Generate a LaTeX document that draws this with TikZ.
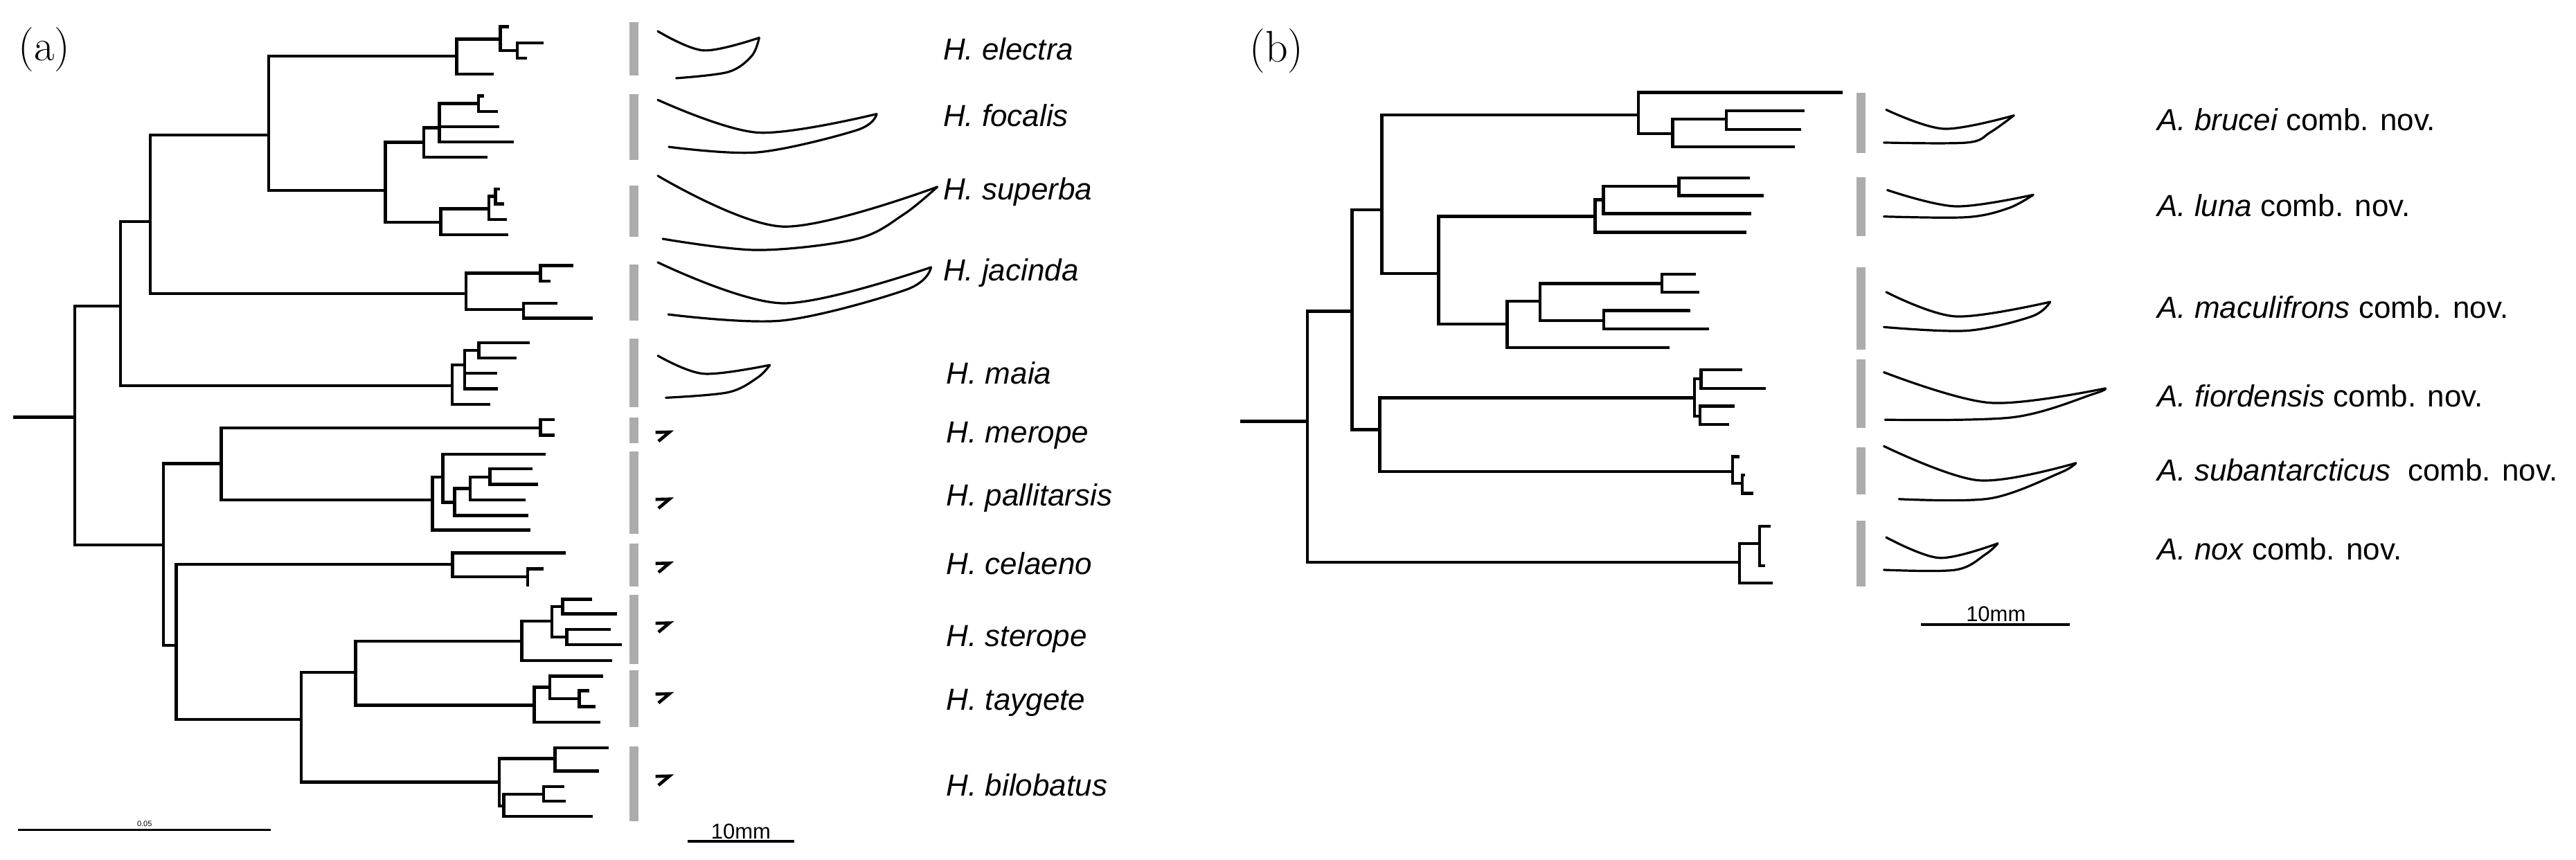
\documentclass[tikz,border=0pt]{standalone}
\usepackage{fontspec}
\setmainfont{Liberation Sans}
\newfontfamily\serifft{Latin Modern Roman}
\begin{document}
\begin{tikzpicture}[x=2.3724pt,y=-2.3724pt,
  tr/.style={line width=4.4pt,line cap=rect},
  claw/.style={line width=3.2pt,line cap=round,line join=round},
  bar/.style={fill=gray!65,draw=none},
  smark/.style={line width=4.6pt,line cap=butt,line join=miter},
  lab/.style={anchor=west,font=\fontsize{44pt}{50pt}\selectfont,inner sep=0pt},
  plab/.style={font=\serifft\fontsize{64pt}{70pt}\selectfont,inner sep=0pt},
  sc/.style={font=\fontsize{31pt}{34pt}\selectfont,inner sep=0pt,anchor=south}]
\useasboundingbox (0,0) rectangle (1568,523.1);
\newcommand\hb[3]{\draw[tr] (#1,#3) -- (#2,#3);}
\newcommand\vb[3]{\draw[tr] (#1,#2) -- (#1,#3);}
\newcommand\gbar[3]{\fill[bar] (#1,#2) rectangle ++(5.5,#3-#2);}
\newcommand\clw[2]{\draw[claw] plot[smooth,tension=0.55] coordinates {#1};\draw[claw] plot[smooth,tension=0.55] coordinates {#2};}
\newcommand\smk[2]{\draw[smark] (#1-1,#2-2.6) -- (#1+7.5,#2-2.8) -- (#1+0.8,#2+2.8);}
% ---------- panel (a) ----------
\node[plab] (pa) at (27,30) {(a)};
\hb{9}{45.5}{254}
\vb{45.5}{186.3}{331.6}
\hb{45.5}{73.3}{186.3}
\vb{73.3}{135}{234.7}
\hb{73.3}{91.5}{135}
\vb{91.5}{82.2}{178.8}
\hb{91.5}{163.5}{82.2}
\vb{163.5}{34.2}{115.8}
\hb{163.5}{278}{34.2}
\vb{278}{23.8}{45}
\hb{278}{304.5}{23.8}
\vb{304.5}{16.2}{30.8}
\hb{304.5}{309}{16.2}
\hb{304.5}{314.8}{30.8}
\vb{314.8}{26.2}{35.3}
\hb{314.8}{330}{26.2}
\hb{314.8}{320}{35.3}
\hb{278}{299.5}{45}
\hb{163.5}{234.5}{115.8}
\vb{234.5}{86.7}{135.3}
\hb{234.5}{258}{86.7}
\vb{258}{77.7}{95.8}
\hb{258}{267.5}{77.7}
\vb{267.5}{63}{86.5}
\hb{267.5}{291.3}{63}
\vb{291.3}{58.3}{67.8}
\hb{291.3}{293.8}{58.3}
\hb{291.3}{302}{67.8}
\hb{267.5}{302.8}{77.2}
\hb{267.5}{312}{86.5}
\hb{258}{295.6}{95.8}
\hb{234.5}{268.3}{135.3}
\vb{268.3}{127}{143}
\hb{268.3}{297.6}{127}
\vb{297.6}{119.5}{133.5}
\hb{297.6}{301.5}{119.5}
\vb{301.5}{115}{124.2}
\hb{301.5}{303.5}{115}
\hb{301.5}{305.8}{124.2}
\hb{297.6}{307.4}{133.5}
\hb{268.3}{308.6}{143}
\hb{91.5}{283.6}{178.8}
\vb{283.6}{166.3}{188.3}
\hb{283.6}{329}{166.3}
\vb{329}{161.7}{171.2}
\hb{329}{348}{161.7}
\hb{329}{334}{171.2}
\hb{283.6}{318.6}{188.3}
\vb{318.6}{184.5}{193.7}
\hb{318.6}{338.5}{184.5}
\hb{318.6}{359.7}{193.7}
\hb{73.3}{275.2}{234.7}
\vb{275.2}{222.2}{246.2}
\hb{275.2}{282.8}{222.2}
\vb{282.8}{213.3}{236.7}
\hb{282.8}{291.5}{213.3}
\vb{291.5}{208.7}{218}
\hb{291.5}{321.4}{208.7}
\hb{291.5}{313.7}{218}
\hb{282.8}{301.5}{227.3}
\hb{282.8}{302}{236.7}
\hb{275.2}{297.6}{246.2}
\hb{45.5}{99.6}{331.6}
\vb{99.6}{282.2}{392.9}
\hb{99.6}{134.6}{282.2}
\vb{134.6}{260.5}{304.4}
\hb{134.6}{329}{260.5}
\vb{329}{255.5}{264.9}
\hb{329}{336.7}{255.5}
\hb{329}{336.7}{264.9}
\hb{134.6}{263.2}{304.4}
\vb{263.2}{290.4}{322.7}
\hb{263.2}{269.5}{290.4}
\vb{269.5}{276.5}{305.8}
\hb{269.5}{331.4}{276.5}
\hb{269.5}{276.7}{305.8}
\vb{276.7}{297.3}{313.8}
\hb{276.7}{286.2}{297.3}
\vb{286.2}{290.4}{304.4}
\hb{286.2}{298.2}{290.4}
\vb{298.2}{285.4}{294.8}
\hb{298.2}{323.2}{285.4}
\hb{298.2}{326.5}{294.8}
\hb{286.2}{318.9}{304.4}
\hb{276.7}{320.6}{313.8}
\hb{263.2}{322}{322.7}
\hb{99.6}{107.3}{392.9}
\vb{107.3}{343.5}{437.9}
\hb{107.3}{275.4}{343.5}
\vb{275.4}{336.6}{351.1}
\hb{275.4}{343.6}{336.6}
\hb{275.4}{321.2}{351.1}
\vb{321.2}{346.2}{356.1}
\hb{321.2}{330}{346.2}
\hb{107.3}{183.4}{437.9}
\vb{183.4}{409.4}{476.1}
\hb{183.4}{216.4}{409.4}
\vb{216.4}{390.2}{429.3}
\hb{216.4}{317.6}{390.2}
\vb{317.6}{378.1}{402.1}
\hb{317.6}{336}{378.1}
\vb{336}{369.3}{387.9}
\hb{336}{342.4}{369.3}
\vb{342.4}{364.8}{373.7}
\hb{342.4}{359.5}{364.8}
\hb{342.4}{374.8}{373.7}
\hb{336}{345}{387.9}
\vb{345}{383.1}{392.5}
\hb{345}{371}{383.1}
\hb{345}{377.6}{392.5}
\hb{317.6}{371.7}{402.1}
\hb{216.4}{325.2}{429.3}
\vb{325.2}{418.3}{439.5}
\hb{325.2}{334.7}{418.3}
\vb{334.7}{411.6}{425.2}
\hb{334.7}{366.1}{411.6}
\hb{334.7}{352.6}{425.2}
\vb{352.6}{420.4}{430.2}
\hb{352.6}{357.7}{420.4}
\hb{352.6}{361.5}{430.2}
\hb{325.2}{364.6}{439.5}
\hb{183.4}{304}{476.1}
\vb{304}{461.7}{490.6}
\hb{304}{337.8}{461.7}
\vb{337.8}{455.1}{469.3}
\hb{337.8}{369.7}{455.1}
\hb{337.8}{363.6}{469.3}
\hb{304}{306.6}{490.6}
\vb{306.6}{483.5}{496.9}
\hb{306.6}{330.9}{483.5}
\vb{330.9}{478.7}{487.6}
\hb{330.9}{342.4}{478.7}
\hb{330.9}{343.6}{487.6}
\hb{306.6}{359.7}{496.9}
% scale bar a
\coordinate (sa1) at (11,505.2); \coordinate (sa2) at (164.8,505.2);
\draw[line width=2.4pt] (sa1) -- (sa2);
\node[font=\fontsize{11pt}{12pt}\selectfont,inner sep=0pt,anchor=south] (sal) at (88,503.2) {0.05};
% grey bars a
\gbar{383}{13.3}{45.8}
\gbar{383}{57.5}{97.5}
\gbar{383}{112.8}{144.2}
\gbar{383}{161.2}{195}
\gbar{383}{206.3}{248}
\gbar{383}{254.3}{269.9}
\gbar{383}{274.7}{324.8}
\gbar{383}{330.7}{356.8}
\gbar{383}{362.1}{404.1}
\gbar{383}{408}{442.7}
\gbar{383}{454.2}{500.1}
% claws a
\clw{(400.4,19) (428.2,30.7) (462.1,23)}{(462.1,23) (457.6,34) (443.3,43.8) (411.6,47.6)}
\clw{(400.4,60.8) (461.3,80.7) (533.6,69.4)}{(533.6,69.4) (521.6,79.2) (461.3,92.7) (407.1,89.4)}
\clw{(400.4,107) (476.4,137.9) (570.5,113.8)}{(570.5,113.8) (550.2,130.4) (521.6,145.4) (461.3,152.2) (403.4,145.4)}
\clw{(400.4,159.7) (476.4,184.6) (566.7,162.7)}{(566.7,162.7) (551.7,176.3) (476.4,195.1) (406.8,191.4)}
\clw{(400.4,216.5) (428.2,227.5) (468.6,222.2)}{(468.6,222.2) (461.3,229.7) (443.3,238.8) (405.3,242.1)}
\smk{400}{265.8}
\smk{400}{306.6}
\smk{400}{345.6}
\smk{400}{382}
\smk{400}{425.1}
\smk{400}{475.2}
% labels a
\node[lab] (la1) at (574,30) {\itshape H. electra};
\node[lab] (la2) at (574,70.5) {\itshape H. focalis};
\node[lab] (la3) at (574,117) {\itshape H. superba};
\node[lab] (la4) at (574,166) {\itshape H. jacinda};
\node[lab] (la5) at (576,227) {\itshape H. maia};
\node[lab] (la6) at (576,265) {\itshape H. merope};
\node[lab] (la7) at (576,303) {\itshape H. pallitarsis};
\node[lab] (la8) at (576,343) {\itshape H. celaeno};
\node[lab] (la9) at (576,389) {\itshape H. sterope};
\node[lab] (la10) at (576,428) {\itshape H. taygete};
\node[lab] (la11) at (576,478) {\itshape H. bilobatus};
% 10mm a
\coordinate (ma1) at (418.5,512.3); \coordinate (ma2) at (483.5,512.3);
\draw[line width=4pt] (ma1) -- (ma2);
\node[sc] (mal) at (451,511) {10mm};
% ---------- panel (b) ----------
\node[plab] (pb) at (777,31) {(b)};
\hb{755.7}{795.9}{256.4}
\vb{795.9}{189.4}{342.2}
\hb{795.9}{1058.9}{342.2}
\vb{1058.9}{331}{355}
\hb{1058.9}{1071}{331}
\vb{1071}{320.4}{344.3}
\hb{1071}{1077}{320.4}
\hb{1071}{1073.5}{344.3}
\hb{1058.9}{1078}{355}
\hb{795.9}{823}{189.4}
\vb{823}{127.7}{261.5}
\hb{823}{841.1}{127.7}
\vb{841.1}{69.9}{166.5}
\hb{841.1}{997.2}{69.9}
\vb{997.2}{56.2}{81.3}
\hb{997.2}{1120.6}{56.2}
\hb{997.2}{1018.2}{81.3}
\vb{1018.2}{72.5}{89.3}
\hb{1018.2}{1050.9}{72.5}
\vb{1050.9}{67.4}{78.7}
\hb{1050.9}{1097.6}{67.4}
\hb{1050.9}{1095.2}{78.7}
\hb{1018.2}{1091.5}{89.3}
\hb{841.1}{875.7}{166.5}
\vb{875.7}{131.8}{197.2}
\hb{875.7}{971}{131.8}
\vb{971}{121.6}{141.4}
\hb{971}{975.9}{121.6}
\vb{975.9}{113.4}{130.1}
\hb{975.9}{1021.9}{113.4}
\vb{1021.9}{108.3}{119.1}
\hb{1021.9}{1064.2}{108.3}
\hb{1021.9}{1072.7}{119.1}
\hb{975.9}{1065}{130.1}
\hb{971}{1062}{141.4}
\hb{875.7}{917.4}{197.2}
\vb{917.4}{183.3}{211.5}
\hb{917.4}{937.4}{183.3}
\vb{937.4}{172.6}{195.1}
\hb{937.4}{1011.7}{172.6}
\vb{1011.7}{166.9}{177.8}
\hb{1011.7}{1031.5}{166.9}
\hb{1011.7}{1033.5}{177.8}
\hb{937.4}{976.1}{195.1}
\vb{976.1}{189}{200.2}
\hb{976.1}{1027.9}{189}
\hb{976.1}{1039.5}{200.2}
\hb{917.4}{1015.3}{211.5}
\hb{823}{839.9}{261.5}
\vb{839.9}{242.1}{287.1}
\hb{839.9}{1031.5}{242.1}
\vb{1031.5}{230.5}{253.4}
\hb{1031.5}{1035.4}{230.5}
\vb{1035.4}{225.2}{236.4}
\hb{1035.4}{1059.6}{225.2}
\hb{1035.4}{1074.1}{236.4}
\hb{1031.5}{1034.7}{253.4}
\vb{1034.7}{247.2}{258.5}
\hb{1034.7}{1054.8}{247.2}
\hb{1034.7}{1051.6}{258.5}
\hb{839.9}{1054.5}{287.1}
\vb{1054.5}{277.9}{294.2}
\hb{1054.5}{1057.7}{277.9}
\hb{1054.5}{1060.6}{294.2}
\vb{1060.6}{289.1}{300.4}
\hb{1060.6}{1061.3}{289.1}
\hb{1060.6}{1066.2}{300.4}
% grey bars b
\gbar{1130}{56.5}{93.1}
\gbar{1130}{108}{143.8}
\gbar{1130}{162.9}{212.7}
\gbar{1130}{218.9}{260.6}
\gbar{1130}{272.2}{300.8}
\gbar{1130}{317}{357.2}
% claws b
\clw{(1148.1,66.8) (1183.3,78.4) (1225.8,70.3)}{(1225.8,70.3) (1211.4,80.6) (1197.3,86.8) (1146.7,86.8)}
\clw{(1148.8,115.7) (1190.3,125.6) (1237.6,118.6)}{(1237.6,118.6) (1222.6,126.7) (1197.3,132.2) (1146.7,131.8)}
\clw{(1148.1,177.8) (1190.3,192.6) (1247.9,183.8)}{(1247.9,183.8) (1236.7,192.6) (1197.3,201.3) (1146.7,199.1)}
\clw{(1146.7,226.6) (1211.4,245.2) (1281.6,236.4)}{(1281.6,236.4) (1274.6,239.7) (1225.4,254) (1147.4,255.5)}
\clw{(1146.7,271.6) (1204.3,292.4) (1263.6,281.9)}{(1263.6,281.9) (1253.5,288) (1211.4,303.4) (1155.9,303.8)}
\clw{(1148.1,327.1) (1180.5,339.6) (1216,330.8)}{(1216,330.8) (1208.6,337.4) (1190.3,346.9) (1146.7,346.9)}
% labels b
\node[lab] (lb1) at (1313,73) {\itshape A. brucei\upshape\ comb. nov.};
\node[lab] (lb2) at (1313,125) {\itshape A. luna\upshape\ comb. nov.};
\node[lab] (lb3) at (1313,187) {\itshape A. maculifrons\upshape\ comb. nov.};
\node[lab] (lb4) at (1313,241) {\itshape A. fiordensis\upshape\ comb. nov.};
\node[lab] (lb5) at (1313,286) {\itshape A. subantarcticus\upshape\ \ comb. nov.};
\node[lab] (lb6) at (1313,334) {\itshape A. nox\upshape\ comb. nov.};
% 10mm b
\coordinate (mb1) at (1169.2,380); \coordinate (mb2) at (1259.9,380);
\draw[line width=4pt] (mb1) -- (mb2);
\node[sc] (mbl) at (1214.9,378.5) {10mm};
\end{tikzpicture}
\end{document}
